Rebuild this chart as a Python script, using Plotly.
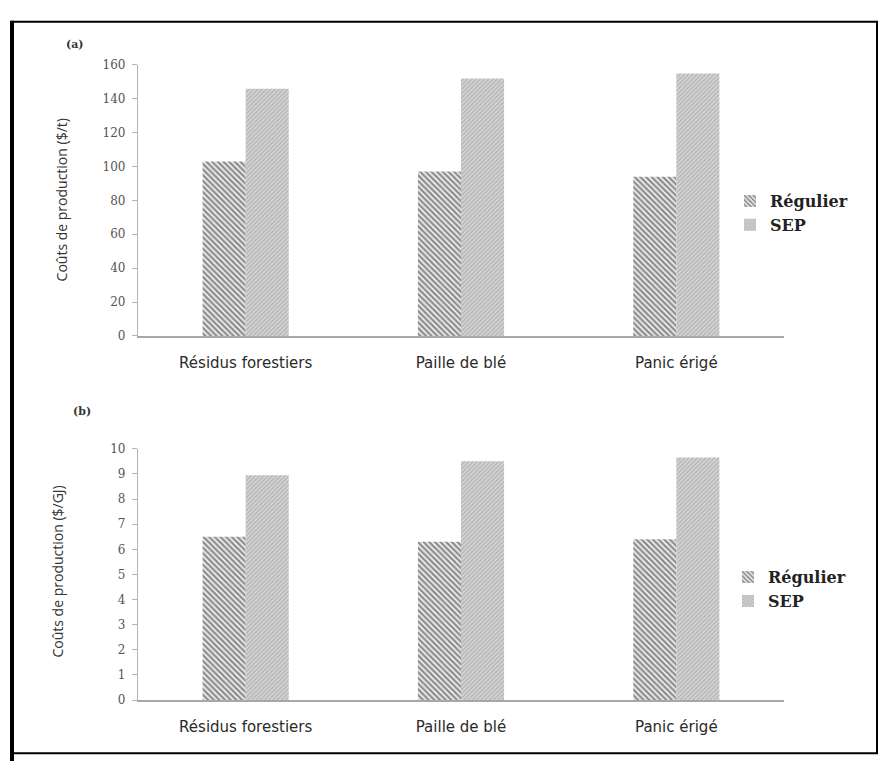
import plotly.graph_objects as go

# Production costs for three feedstocks, regular vs SEP process
categories = ["Résidus forestiers", "Paille de blé", "Panic érigé"]
series_names = ["Régulier", "SEP"]

cost_per_tonne_regulier = [103, 97, 94]
cost_per_tonne_sep = [146, 152, 155]

cost_per_gj_regulier = [6.5, 6.3, 6.4]
cost_per_gj_sep = [8.95, 9.5, 9.65]

ticks_top = [0, 20, 40, 60, 80, 100, 120, 140, 160]
ticks_bottom = list(range(0, 11))

W, H = 888, 768


def px_x(v):
    return v / W


def px_y(v):
    return 1 - v / H


reg_pattern = dict(shape="\\", fgcolor="#262626", bgcolor="#f2f2f2", size=4, solidity=0.55)
sep_pattern = dict(shape="/", fgcolor="#8f8f8f", bgcolor="#d6d6d6", size=3, solidity=0.45)

fig = go.Figure()

fig.add_trace(go.Bar(x=categories, y=cost_per_tonne_regulier, name=series_names[0],
                     marker=dict(color="#f2f2f2", pattern=reg_pattern, line=dict(width=0)),
                     xaxis="x", yaxis="y", legend="legend"))
fig.add_trace(go.Bar(x=categories, y=cost_per_tonne_sep, name=series_names[1],
                     marker=dict(color="#d6d6d6", pattern=sep_pattern, line=dict(width=0)),
                     xaxis="x", yaxis="y", legend="legend"))
fig.add_trace(go.Bar(x=categories, y=cost_per_gj_regulier, name=series_names[0],
                     marker=dict(color="#f2f2f2", pattern=reg_pattern, line=dict(width=0)),
                     xaxis="x2", yaxis="y2", legend="legend2"))
fig.add_trace(go.Bar(x=categories, y=cost_per_gj_sep, name=series_names[1],
                     marker=dict(color="#d6d6d6", pattern=sep_pattern, line=dict(width=0)),
                     xaxis="x2", yaxis="y2", legend="legend2"))

tick_font = dict(family="DejaVu Serif", size=12, color="#555555")
cat_font = dict(family="DejaVu Sans", size=15, color="#2a2a2a")
legend_font = dict(family="DejaVu Serif", size=16, color="#222222", weight="bold")

x_dom = [px_x(138), px_x(784)]

xaxis_common = dict(showline=True, linecolor="#a8a8a8", linewidth=1.5, ticks="",
                    showgrid=False, zeroline=False, tickfont=cat_font,
                    ticklabelstandoff=12, domain=x_dom, fixedrange=True)
yaxis_common = dict(showline=True, linecolor="#b5b5b5", linewidth=1.2, ticks="outside",
                    ticklen=5, tickcolor="#b5b5b5", showgrid=False, zeroline=False,
                    tickfont=tick_font, ticklabelstandoff=4, fixedrange=True)

fig.update_layout(
    width=W, height=H,
    margin=dict(l=0, r=0, t=0, b=0),
    paper_bgcolor="white", plot_bgcolor="white",
    barmode="group", bargap=0.6, bargroupgap=0,
    xaxis=dict(**xaxis_common, anchor="y"),
    yaxis=dict(**yaxis_common, domain=[px_y(335), px_y(59)], range=[0, 160],
               tickvals=ticks_top, anchor="x"),
    xaxis2=dict(**xaxis_common, anchor="y2"),
    yaxis2=dict(**yaxis_common, domain=[px_y(706), px_y(450)], range=[0, 10],
                tickvals=ticks_bottom, anchor="x2"),
    legend=dict(x=px_x(730), y=px_y(210), xanchor="left", yanchor="middle",
                font=legend_font, bgcolor="rgba(0,0,0,0)", itemwidth=30,
                tracegroupgap=0),
    legend2=dict(x=px_x(728), y=px_y(593), xanchor="left", yanchor="middle",
                 font=legend_font, bgcolor="rgba(0,0,0,0)", itemwidth=30,
                 tracegroupgap=0),
    showlegend=True,
)

title_font = dict(family="Open Sans", size=14, color="#333333")
panel_font = dict(family="DejaVu Serif", size=11, color="#333333")

fig.add_annotation(text="Coûts de production ($/t)", textangle=-90, font=title_font,
                   x=px_x(61), y=px_y(197), xref="paper", yref="paper",
                   xanchor="center", yanchor="middle", showarrow=False)
fig.add_annotation(text="Coûts de production ($/GJ)", textangle=-90, font=title_font,
                   x=px_x(58), y=px_y(575), xref="paper", yref="paper",
                   xanchor="center", yanchor="middle", showarrow=False)
fig.add_annotation(text="<b>(a)</b>", font=panel_font,
                   x=px_x(75), y=px_y(38), xref="paper", yref="paper",
                   xanchor="center", yanchor="middle", showarrow=False)
fig.add_annotation(text="<b>(b)</b>", font=panel_font,
                   x=px_x(82), y=px_y(412), xref="paper", yref="paper",
                   xanchor="center", yanchor="middle", showarrow=False)

# Outer frame, with a heavier left edge
fig.add_shape(type="rect", xref="paper", yref="paper",
              x0=px_x(12), x1=px_x(877), y0=px_y(760), y1=px_y(15),
              line=dict(color="black", width=2), fillcolor="rgba(0,0,0,0)")
fig.add_shape(type="line", xref="paper", yref="paper",
              x0=px_x(12), x1=px_x(12), y0=px_y(768), y1=px_y(14),
              line=dict(color="black", width=4))

fig.write_html("out.html")
